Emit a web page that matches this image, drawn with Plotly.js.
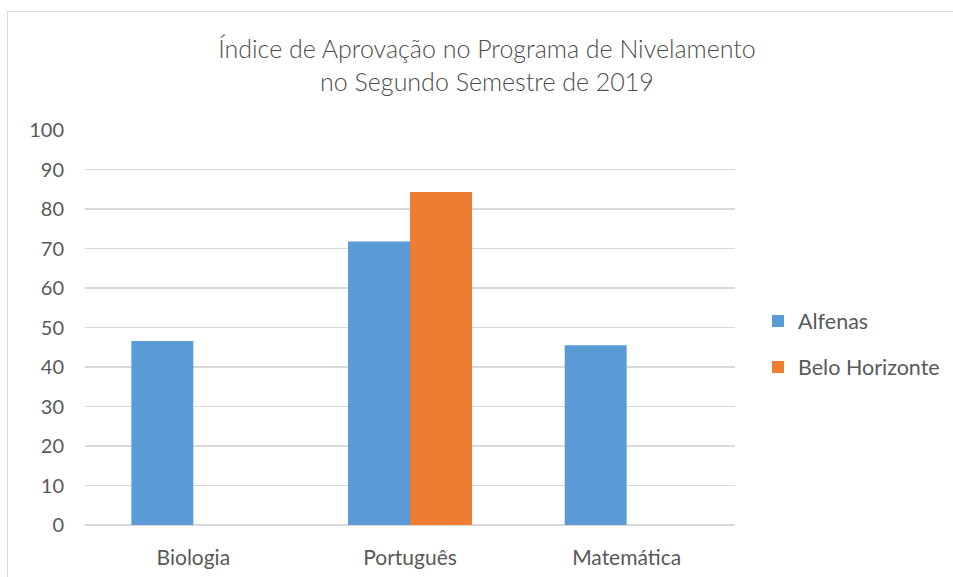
<!DOCTYPE html>
<html>
<head>
<meta charset="utf-8">
<script src="https://cdn.plot.ly/plotly-3.0.1.min.js"></script>
<style>
  html, body { margin: 0; padding: 0; background: #ffffff; }
  #frame { position: absolute; left: 7px; top: 11px; width: 1000px; height: 700px; border: 1px solid #d9d9d9; box-sizing: border-box; }
  #chart { position: absolute; left: 0; top: 0; width: 953px; height: 577px; }
</style>
</head>
<body>
<div id="frame"></div>
<div id="chart"></div>
<script>
const categories = ["Biologia", "Português", "Matemática"];
const alfenas = [46.6, 71.8, 45.5];
const beloHorizonte = [null, 84.3, null];
const seriesNames = ["Alfenas", "Belo Horizonte"];
const yTicks = [0, 10, 20, 30, 40, 50, 60, 70, 80, 90, 100];

const FONT = "Lato, 'Open Sans', sans-serif";
const TXT = "#595959";

const traces = [
  { type: "bar", name: seriesNames[0], x: categories, y: alfenas,
    marker: { color: "#5B9BD5" }, legendgroup: "a", hoverinfo: "skip" },
  { type: "bar", name: seriesNames[1], x: categories, y: beloHorizonte,
    marker: { color: "#ED7D31" }, legendgroup: "b", hoverinfo: "skip" }
];

const layout = {
  width: 953, height: 577,
  paper_bgcolor: "rgba(0,0,0,0)", plot_bgcolor: "rgba(0,0,0,0)",
  margin: { l: 85, r: 218, t: 130, b: 51.5, pad: 0 },
  font: { family: FONT, color: TXT, size: 20 },
  title: {
    text: "Índice de Aprovação no Programa de Nivelamento<br>no Segundo Semestre de 2019",
    font: { family: FONT, size: 25, color: "#4d4d4d", weight: 300 },
    x: 0.511, xanchor: "center", xref: "container",
    y: 0.899, yanchor: "bottom", yref: "container"
  },
  barmode: "group", bargap: 0.428, bargroupgap: 0,
  xaxis: {
    type: "category", showgrid: false, showline: false, zeroline: false,
    ticks: "", ticklabelstandoff: 18,
    tickfont: { family: FONT, size: 21, color: TXT }
  },
  yaxis: {
    range: [0, 100], tickvals: yTicks, ticktext: yTicks.map(String),
    showgrid: true, gridcolor: "#d9d9d9", gridwidth: 1.5,
    zeroline: true, zerolinecolor: "#d9d9d9", zerolinewidth: 1.5,
    showline: false, ticks: "", ticklabelstandoff: 20,
    tickfont: { family: FONT, size: 20, color: TXT }
  },
  showlegend: true,
  legend: {
    xref: "container", yref: "container",
    x: 0.7954, xanchor: "left", y: 1 - 344 / 577, yanchor: "middle",
    font: { family: FONT, size: 21.5, color: TXT },
    tracegroupgap: 15, traceorder: "grouped",
    bgcolor: "rgba(0,0,0,0)", borderwidth: 0
  }
};

Plotly.newPlot("chart", traces, layout, { displayModeBar: false, staticPlot: true });
</script>
</body>
</html>
